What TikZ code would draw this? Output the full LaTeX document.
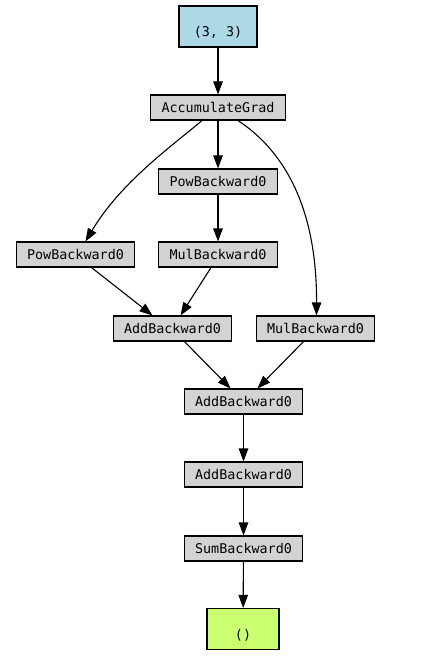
\documentclass[tikz,border=0pt]{standalone}
\usepackage{fontspec}
\setmonofont{DejaVu Sans Mono}
\usepackage{tikz}
\usetikzlibrary{arrows.meta,shapes,positioning}

\definecolor{paramblue}{HTML}{ADD8E6}
\definecolor{gradgray}{HTML}{D3D3D3}
\definecolor{outgreen}{HTML}{CAFF70}
\newcommand{\lowlabel}[1]{\raisebox{-10pt}[0pt][0pt]{#1}}

\begin{document}
\begin{tikzpicture}[x=1pt, y=-1pt, >={Triangle[length=13pt,width=9.5pt]},
    every node/.style={font=\ttfamily\fontsize{13.4}{12}\selectfont},
    fnode/.style={draw, line width=1.1pt, fill=gradgray, inner xsep=11pt, inner ysep=0pt, minimum height=25pt},
    tnode/.style={draw, line width=1.1pt, inner sep=0pt, minimum height=41pt},
    edge/.style={->, line width=1.1pt}]
    \useasboundingbox (0,0) rectangle (422,660);

    \node[tnode, fill=paramblue, minimum width=78pt] (param) at (218,26.5) {\lowlabel{(3, 3)}};
    \node[fnode] (acc) at (218,107.5) {AccumulateGrad};
    \node[fnode] (powm) at (218,181.5) {PowBackward0};
    \node[fnode] (powl) at (75.5,254.5) {PowBackward0};
    \node[fnode] (mulm) at (218,254.5) {MulBackward0};
    \node[fnode] (addl) at (172.5,328.5) {AddBackward0};
    \node[fnode] (mulr) at (315.5,328.5) {MulBackward0};
    \node[fnode] (adda) at (243.5,401.5) {AddBackward0};
    \node[fnode] (addb) at (243.5,474.5) {AddBackward0};
    \node[fnode] (sum) at (243.5,548.5) {SumBackward0};
    \node[tnode, fill=outgreen, minimum width=72pt] (out) at (243,629) {\lowlabel{()}};

    \draw[edge] (param) -- (acc);
    \draw[edge] ([xshift=-16pt]acc.south) .. controls (172,146) and (121,182) .. ([xshift=10pt]powl.north);
    \draw[edge] (acc) -- (powm);
    \draw[edge] ([xshift=20pt]acc.south) .. controls (275,145) and (317,195) .. ([xshift=1pt]mulr.north);
    \draw[edge] (powm) -- (mulm);
    \draw[edge] ([xshift=16pt]powl.south) -- ([xshift=-20pt]addl.north);
    \draw[edge] ([xshift=-7pt]mulm.south) -- ([xshift=8pt]addl.north);
    \draw[edge] ([xshift=12pt]addl.south) -- ([xshift=-13pt]adda.north);
    \draw[edge] ([xshift=-12pt]mulr.south) -- ([xshift=14pt]adda.north);
    \draw[edge] (adda) -- (addb);
    \draw[edge] (addb) -- (sum);
    \draw[edge] (sum) -- (out);
\end{tikzpicture}
\end{document}
